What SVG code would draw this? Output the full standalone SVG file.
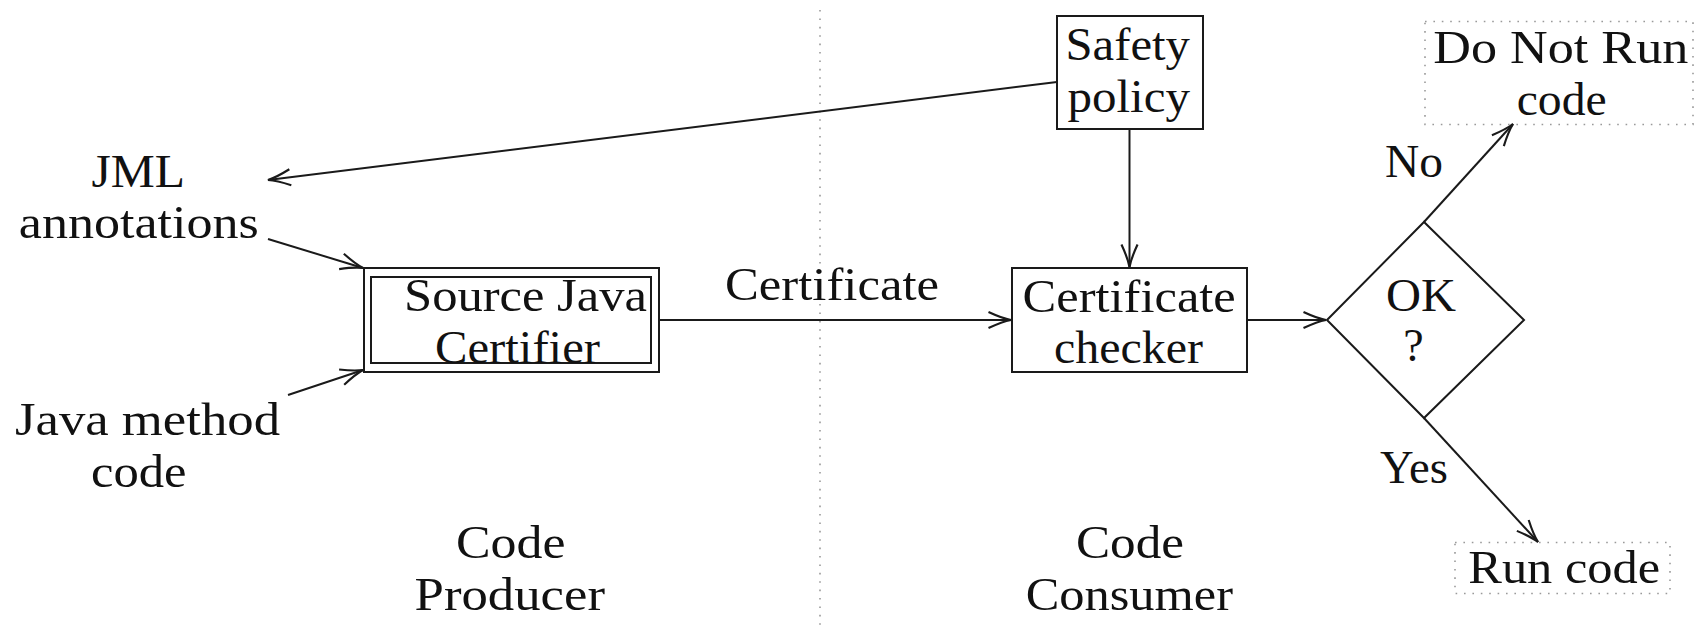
<svg xmlns="http://www.w3.org/2000/svg" width="1699" height="629" viewBox="0 0 1699 629">
  <style>
    text { font-family: "Liberation Serif", "Times New Roman", serif; font-size: 46px; fill: #111; }
    .box { fill: none; stroke: #1a1a1a; stroke-width: 2; }
    .edge { fill: none; stroke: #1a1a1a; stroke-width: 2; marker-end: url(#head); }
    .dots { fill: none; stroke: #9a9a9a; stroke-width: 1.6; stroke-dasharray: 1.6 6.8; }
  </style>
  <defs>
    <marker id="head" markerUnits="userSpaceOnUse" orient="auto" refX="0" refY="0" markerWidth="30" markerHeight="30" viewBox="-24 -12 28 24" overflow="visible">
      <path d="M-21,-7.5 Q-8,-1.5 0,0 Q-8,1.5 -21,7.5" fill="none" stroke="#1a1a1a" stroke-width="2"/>
    </marker>
  </defs>

  <!-- producer / consumer divider -->
  <line class="dots" x1="820" y1="10" x2="820" y2="629"/>

  <g id="connectors">
    <path class="edge" d="M1057,82 L268,180"/>
    <path class="edge" d="M268,239 L363,268"/>
    <path class="edge" d="M288,395 L363,370"/>
    <path class="edge" d="M659,320 L1011,320"/>
    <path class="edge" d="M1129.5,129 L1129.5,267"/>
    <path class="edge" d="M1247,320 L1326,320"/>
    <path class="edge" d="M1424,222 L1513,124"/>
    <path class="edge" d="M1424,418 L1538,542"/>
  </g>

  <g id="jml">
    <text x="91.5" y="186.7" textLength="93.5" lengthAdjust="spacingAndGlyphs">JML</text>
    <text x="18.8" y="238.3" textLength="240" lengthAdjust="spacingAndGlyphs">annotations</text>
  </g>

  <g id="java-code">
    <text x="15" y="435" textLength="265" lengthAdjust="spacingAndGlyphs">Java method</text>
    <text x="91" y="486.7" textLength="95.6" lengthAdjust="spacingAndGlyphs">code</text>
  </g>

  <g id="certifier">
    <rect class="box" x="364" y="268" width="295" height="104"/>
    <rect class="box" x="371" y="277" width="280" height="86"/>
    <text x="404" y="310.7" textLength="243" lengthAdjust="spacingAndGlyphs">Source Java</text>
    <text x="435" y="362.7" textLength="165" lengthAdjust="spacingAndGlyphs">Certifier</text>
  </g>

  <g id="certificate-label">
    <text x="725" y="300" textLength="214" lengthAdjust="spacingAndGlyphs">Certificate</text>
  </g>

  <g id="safety-policy">
    <rect class="box" x="1057" y="16" width="146" height="113"/>
    <text x="1065.5" y="60" textLength="124.4" lengthAdjust="spacingAndGlyphs">Safety</text>
    <text x="1067.4" y="111.7" textLength="122.5" lengthAdjust="spacingAndGlyphs">policy</text>
  </g>

  <g id="checker">
    <rect class="box" x="1012" y="268" width="235" height="104"/>
    <text x="1022.6" y="311.7" textLength="213.2" lengthAdjust="spacingAndGlyphs">Certificate</text>
    <text x="1054" y="363.3" textLength="149" lengthAdjust="spacingAndGlyphs">checker</text>
  </g>

  <g id="decision">
    <path class="box" d="M1327,320 L1424,222 L1524,320 L1424,418 Z"/>
    <text x="1386" y="311" textLength="70" lengthAdjust="spacingAndGlyphs">OK</text>
    <text x="1413.5" y="361" text-anchor="middle">?</text>
  </g>

  <g id="no-label">
    <text x="1385" y="176.5" textLength="58" lengthAdjust="spacingAndGlyphs">No</text>
  </g>

  <g id="yes-label">
    <text x="1380" y="483" textLength="68" lengthAdjust="spacingAndGlyphs">Yes</text>
  </g>

  <g id="do-not-run">
    <rect class="dots" x="1425" y="21.5" width="268" height="103"/>
    <text x="1433.3" y="63.3" textLength="255" lengthAdjust="spacingAndGlyphs">Do Not Run</text>
    <text x="1516.7" y="115" textLength="90" lengthAdjust="spacingAndGlyphs">code</text>
  </g>

  <g id="run-code">
    <rect class="dots" x="1455" y="542.5" width="215" height="51"/>
    <text x="1468.3" y="583.3" textLength="191.7" lengthAdjust="spacingAndGlyphs">Run code</text>
  </g>

  <g id="producer">
    <text x="456" y="558.3" textLength="109.5" lengthAdjust="spacingAndGlyphs">Code</text>
    <text x="414.6" y="610" textLength="190.4" lengthAdjust="spacingAndGlyphs">Producer</text>
  </g>

  <g id="consumer">
    <text x="1076" y="558" textLength="108" lengthAdjust="spacingAndGlyphs">Code</text>
    <text x="1025.7" y="610" textLength="207.3" lengthAdjust="spacingAndGlyphs">Consumer</text>
  </g>
</svg>
